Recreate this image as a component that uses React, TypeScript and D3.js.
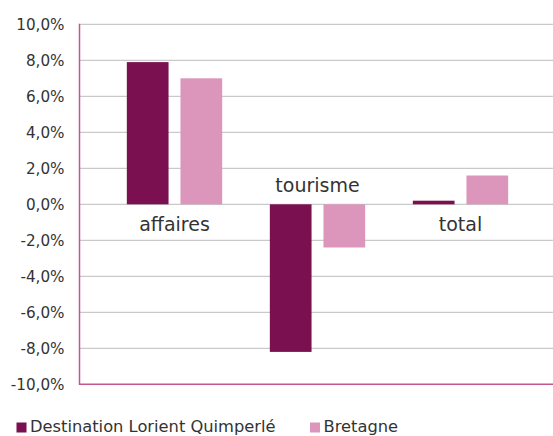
import * as d3 from 'd3';
import { useEffect, useRef } from 'react';

const categories = ['affaires', 'tourisme', 'total'];
const seriesNames = ['Destination Lorient Quimperlé', 'Bretagne'];
const lorientValues = [7.9, -8.2, 0.2];
const bretagneValues = [7.0, -2.4, 1.6];
const yTicks = [-10, -8, -6, -4, -2, 0, 2, 4, 6, 8, 10];

const colors = ['#7b1050', '#dc96bb'];
const axisPink = '#c4568f';
const font = '"DejaVu Sans", sans-serif';

export default function App() {
  const ref = useRef<SVGSVGElement | null>(null);

  useEffect(() => {
    if (!ref.current) return;
    const svg = d3.select(ref.current);
    svg.selectAll('*').remove();

    const width = 553;
    const height = 436;
    svg.attr('viewBox', `0 0 ${width} ${height}`);

    const left = 79.5;
    const rows = categories.map((c, i) => ({
      category: c,
      values: [lorientValues[i], bretagneValues[i]],
    }));

    const y = d3.scaleLinear().domain([-10, 10]).range([384.3, 24.3]);
    const x0 = d3.scaleBand().domain(categories).range([103, 532]);
    const x1 = d3.scaleBand()
      .domain(seriesNames)
      .range([0, x0.bandwidth()])
      .paddingInner(12 / 54)
      .paddingOuter(0.4444);

    // french style numbers, plain hyphen for the minus sign
    const locale = d3.formatLocale({
      decimal: ',',
      thousands: ' ',
      grouping: [3],
      currency: ['', '€'],
      minus: '-',
    });
    const fmt = locale.format('.1f');

    // gridlines
    svg.append('g')
      .selectAll('line')
      .data(yTicks.filter((t) => t !== -10))
      .join('line')
      .attr('x1', left)
      .attr('x2', width)
      .attr('y1', (d) => y(d))
      .attr('y2', (d) => y(d))
      .attr('stroke', '#c9c9c9')
      .attr('stroke-width', 1.3);

    // tick labels
    svg.append('g')
      .selectAll('text')
      .data(yTicks)
      .join('text')
      .attr('x', 64.5)
      .attr('y', (d) => y(d))
      .attr('dy', '0.36em')
      .attr('text-anchor', 'end')
      .attr('font-family', font)
      .attr('font-size', 15.2)
      .attr('fill', '#333')
      .text((d) => `${fmt(d)}%`);

    // bars
    const groups = svg.append('g')
      .selectAll('g')
      .data(rows)
      .join('g')
      .attr('transform', (d) => `translate(${x0(d.category)},0)`);

    groups.selectAll('rect')
      .data((d) => d.values.map((v, i) => ({ name: seriesNames[i], value: v, i })))
      .join('rect')
      .attr('x', (d) => x1(d.name)!)
      .attr('width', x1.bandwidth())
      .attr('y', (d) => y(Math.max(0, d.value)))
      .attr('height', (d) => Math.abs(y(d.value) - y(0)))
      .attr('fill', (d) => colors[d.i]);

    // category labels
    svg.append('g')
      .selectAll('text')
      .data(rows)
      .join('text')
      .attr('x', (d) => x0(d.category)! + x0.bandwidth() / 2)
      .attr('y', (d) => (d.values[0] < 0 ? y(0) - 12 : y(0) + 27))
      .attr('text-anchor', 'middle')
      .attr('font-family', font)
      .attr('font-size', 19)
      .attr('fill', '#333')
      .text((d) => d.category);

    // axes lines
    svg.append('line')
      .attr('x1', left).attr('x2', left)
      .attr('y1', y(10) - 0.5).attr('y2', y(-10) + 0.7)
      .attr('stroke', axisPink).attr('stroke-width', 1.5);
    svg.append('line')
      .attr('x1', left).attr('x2', width)
      .attr('y1', y(-10)).attr('y2', y(-10))
      .attr('stroke', axisPink).attr('stroke-width', 1.5);

    // legend
    const legendX = [16.5, 310];
    const legend = svg.append('g')
      .selectAll('g')
      .data(seriesNames)
      .join('g')
      .attr('transform', (_, i) => `translate(${legendX[i]},422.5)`);
    legend.append('rect')
      .attr('width', 10).attr('height', 10)
      .attr('fill', (_, i) => colors[i]);
    legend.append('text')
      .attr('x', 13.5)
      .attr('y', 9.8)
      .attr('font-family', font)
      .attr('font-size', 16.3)
      .attr('fill', '#333')
      .text((d) => d);
  }, []);

  return (
    <svg
      ref={ref}
      width={553}
      height={436}
      style={{ position: 'absolute', left: 0, top: 0, background: '#fff' }}
    />
  );
}
